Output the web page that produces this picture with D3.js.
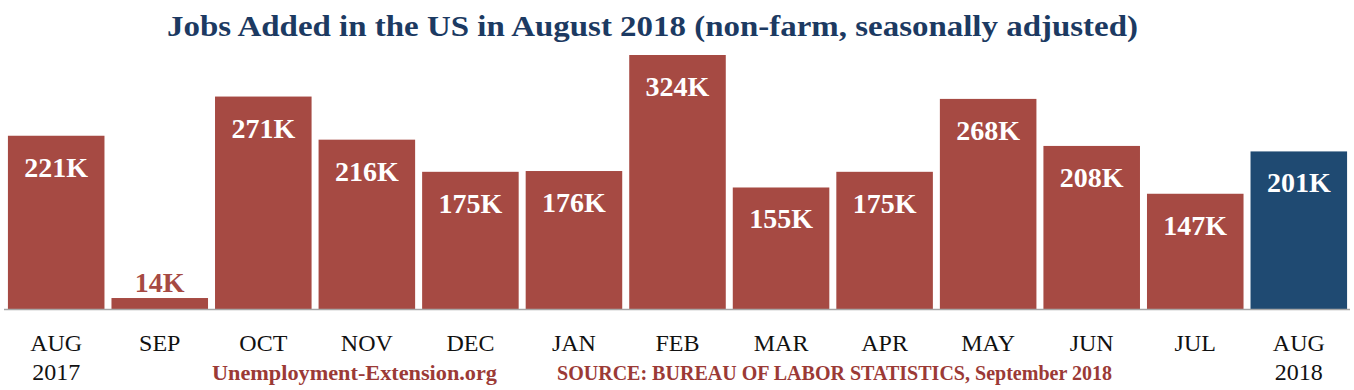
<!DOCTYPE html>
<html>
<head>
<meta charset="utf-8">
<script src="https://cdn.jsdelivr.net/npm/d3@7"></script>
<style>
  body { margin: 0; background: #fff; }
  svg { display: block; }
  text { font-family: "Liberation Serif", "Times New Roman", Times, serif; }
</style>
</head>
<body>
<div id="chart"></div>
<script>
var width = 1354;
var height = 390;

// data
var months = ['AUG', 'SEP', 'OCT', 'NOV', 'DEC', 'JAN', 'FEB', 'MAR', 'APR', 'MAY', 'JUN', 'JUL', 'AUG'];
var years = ['2017', '', '', '', '', '', '', '', '', '', '', '', '2018'];
var jobs = [221, 14, 271, 216, 175, 176, 324, 155, 175, 268, 208, 147, 201];

var red = '#a64a43';
var blue = '#1f4a72';

var svg = d3.select('#chart').append('svg').attr('width', width).attr('height', height);

var x = d3.scaleBand()
    .domain(d3.range(months.length))
    .range([4.4, 1350.6])
    .paddingInner(0.0676)
    .paddingOuter(0.034);

var y = d3.scaleLinear().domain([0, 324]).range([309, 55]);

// title
svg.append('text')
    .attr('x', 167).attr('y', 36)
    .attr('textLength', 971).attr('lengthAdjust', 'spacingAndGlyphs')
    .style('font-weight', 'bold')
    .style('font-size', '29px')
    .style('fill', '#1c3a62')
    .text('Jobs Added in the US in August 2018 (non-farm, seasonally adjusted)');

// bars
svg.selectAll('.bar').data(jobs).enter().append('rect')
    .attr('class', 'bar')
    .attr('x', function(d, i) { return x(i); })
    .attr('y', function(d) { return y(d); })
    .attr('width', x.bandwidth())
    .attr('height', function(d) { return y(0) - y(d); })
    .style('fill', function(d, i) { return i == jobs.length - 1 ? blue : red; });

// value labels, inside the bar unless it is too short
svg.selectAll('.val').data(jobs).enter().append('text')
    .attr('class', 'val')
    .attr('x', function(d, i) { return x(i) + x.bandwidth() / 2; })
    .attr('y', function(d) {
        return (y(0) - y(d)) < 50 ? y(d) - 6 : y(d) + 41;
    })
    .attr('text-anchor', 'middle')
    .style('font-weight', 'bold')
    .style('font-size', '28px')
    .style('fill', function(d) { return (y(0) - y(d)) < 50 ? red : '#fff'; })
    .text(function(d) { return d + 'K'; });

// baseline
svg.append('line')
    .attr('x1', 4).attr('x2', 1350)
    .attr('y1', y(0) + 0.5).attr('y2', y(0) + 0.5)
    .style('stroke', '#a6a6a6')
    .style('stroke-width', 1.5);

// category labels
var cats = svg.selectAll('.cat').data(months).enter().append('text')
    .attr('class', 'cat')
    .attr('text-anchor', 'middle')
    .style('font-size', '24px')
    .style('fill', '#111');
cats.append('tspan')
    .attr('x', function(d, i) { return x(i) + x.bandwidth() / 2; })
    .attr('y', 351)
    .text(function(d) { return d; });
cats.append('tspan')
    .attr('x', function(d, i) { return x(i) + x.bandwidth() / 2; })
    .attr('y', 380)
    .text(function(d, i) { return years[i]; });

// footer
svg.append('text')
    .attr('x', 212).attr('y', 380)
    .attr('textLength', 285).attr('lengthAdjust', 'spacingAndGlyphs')
    .style('font-weight', 'bold')
    .style('font-size', '20px')
    .style('fill', '#9b3a36')
    .text('Unemployment-Extension.org');

svg.append('text')
    .attr('x', 557).attr('y', 380)
    .attr('textLength', 555).attr('lengthAdjust', 'spacingAndGlyphs')
    .style('font-weight', 'bold')
    .style('font-size', '20px')
    .style('fill', '#9b3a36')
    .text('SOURCE: BUREAU OF LABOR STATISTICS, September 2018');
</script>
</body>
</html>
